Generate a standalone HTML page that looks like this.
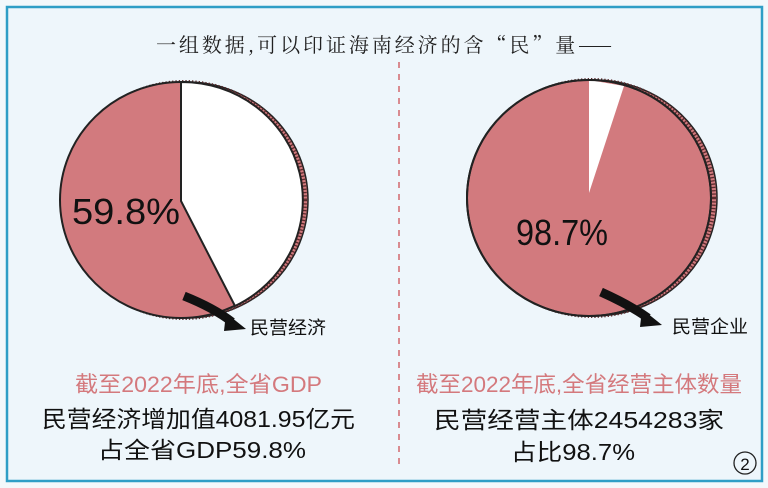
<!DOCTYPE html>
<html><head><meta charset="utf-8"><style>
html,body{margin:0;padding:0;background:#eef6fb;}
svg{display:block}
text{font-family:"Liberation Sans","Noto Sans CJK SC",sans-serif;}
</style></head><body>
<svg width="768" height="488" viewBox="0 0 768 488" xmlns="http://www.w3.org/2000/svg">
<rect x="0" y="0" width="768" height="488" fill="#f3f8fb"/>
<rect x="7" y="7" width="755" height="474" fill="#eef6fb" stroke="#2f9ec6" stroke-width="2.5"/>
<text x="384" y="52" text-anchor="middle" font-size="20" fill="#222" style="font-family:'Noto Serif CJK SC','Liberation Serif',serif" textLength="456" lengthAdjust="spacing">一组数据,可以印证海南经济的含“民”量——</text>
<line x1="399" y1="62" x2="399" y2="468" stroke="#d98b90" stroke-width="2" stroke-dasharray="6 6"/>

<!-- left pie -->
<ellipse cx="187" cy="200" rx="121" ry="118" fill="#d27a7e" stroke="#222" stroke-width="1.5"/>
<ellipse cx="184" cy="200" rx="121" ry="118" fill="none" stroke="#5a2b2d" stroke-width="4" stroke-dasharray="1.3 2"/>
<ellipse cx="181" cy="200" rx="121" ry="118" fill="#d27a7e" stroke="#222" stroke-width="2"/>
<path d="M181,82 A121,118 0 0 1 235,306 L181,201 Z" fill="#ffffff" stroke="#222" stroke-width="2"/>
<text x="72" y="224" font-size="36" fill="#111" textLength="108" lengthAdjust="spacingAndGlyphs">59.8%</text>
<path d="M184,296 Q214,308 232,322" fill="none" stroke="#111" stroke-width="9"/>
<polygon points="226,313 246,329 224,331" fill="#111"/>
<text x="250" y="334" font-size="18" fill="#111" textLength="76" lengthAdjust="spacingAndGlyphs">民营经济</text>

<!-- right pie -->
<ellipse cx="595" cy="198" rx="122" ry="118" fill="#d27a7e" stroke="#222" stroke-width="1.5"/>
<ellipse cx="592" cy="198" rx="122" ry="118" fill="none" stroke="#5a2b2d" stroke-width="4" stroke-dasharray="1.3 2"/>
<ellipse cx="589" cy="198" rx="122" ry="118" fill="#d27a7e" stroke="#222" stroke-width="2"/>
<path d="M589,80 L624,86 L589,193 Z" fill="#ffffff"/>
<ellipse cx="589" cy="198" rx="122" ry="118" fill="none" stroke="#222" stroke-width="2"/>
<text x="516" y="245" font-size="36" fill="#111" textLength="92" lengthAdjust="spacingAndGlyphs">98.7%</text>
<path d="M601,292 Q630,305 648,318" fill="none" stroke="#111" stroke-width="9"/>
<polygon points="642,309 662,325 640,327" fill="#111"/>
<text x="672" y="333" font-size="18" fill="#111" textLength="76" lengthAdjust="spacingAndGlyphs">民营企业</text>

<!-- left text -->
<text x="75" y="392" font-size="22" fill="#d4797d" textLength="247" lengthAdjust="spacingAndGlyphs">截至2022年底,全省GDP</text>
<text x="42" y="427" font-size="23" fill="#111" textLength="313" lengthAdjust="spacingAndGlyphs">民营经济增加值4081.95亿元</text>
<text x="98" y="458" font-size="23" fill="#111" textLength="208" lengthAdjust="spacingAndGlyphs">占全省GDP59.8%</text>

<!-- right text -->
<text x="416" y="392" font-size="22" fill="#d4797d" textLength="326" lengthAdjust="spacingAndGlyphs">截至2022年底,全省经营主体数量</text>
<text x="434" y="428" font-size="23" fill="#111" textLength="290" lengthAdjust="spacingAndGlyphs">民营经营主体2454283家</text>
<text x="511" y="460" font-size="23" fill="#111" textLength="124" lengthAdjust="spacingAndGlyphs">占比98.7%</text>

<circle cx="745" cy="463" r="11" fill="none" stroke="#222" stroke-width="1.3"/>
<text x="745" y="470" font-size="17" text-anchor="middle" fill="#111">2</text>
</svg>
</body></html>
